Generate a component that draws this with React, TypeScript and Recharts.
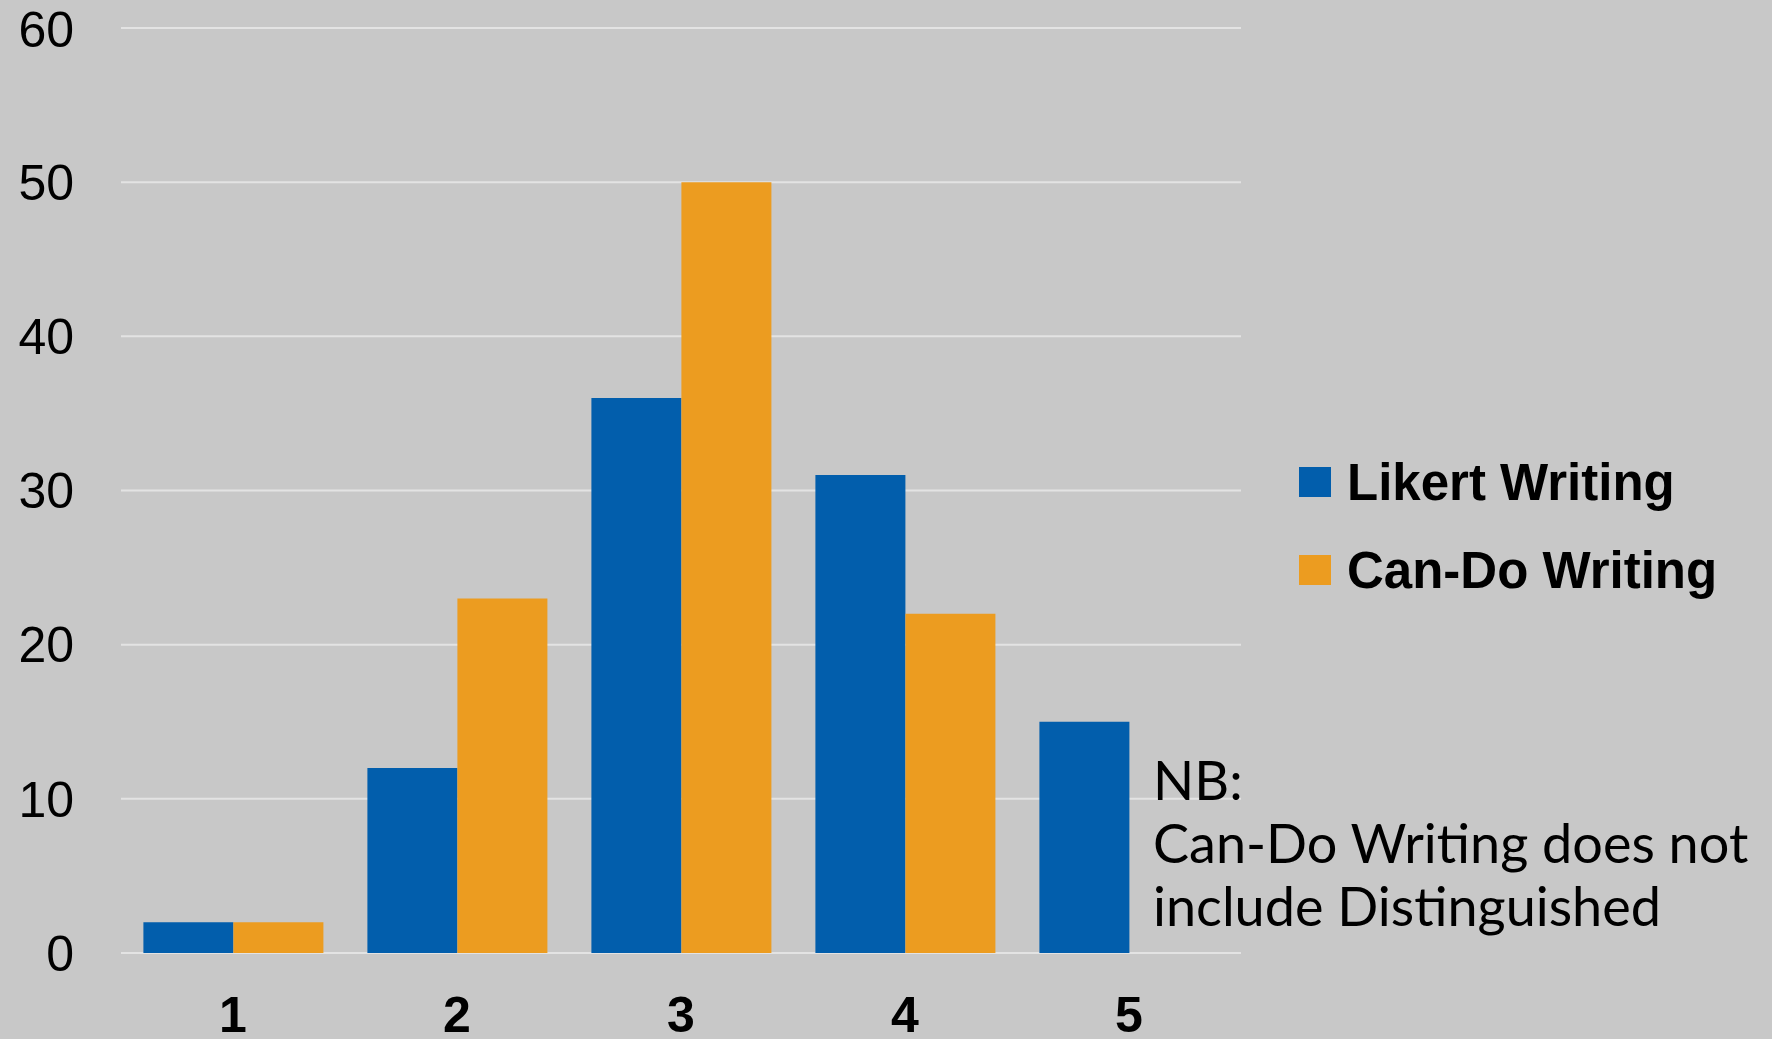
import React from 'react';
import { BarChart, Bar, XAxis, YAxis, CartesianGrid } from 'recharts';

const categories = ['1', '2', '3', '4', '5'];
const likertWriting = [2, 12, 36, 31, 15];
const canDoWriting: (number | null)[] = [2, 23, 50, 22, null];
const yTicks = [0, 10, 20, 30, 40, 50, 60];

const BLUE = '#025EAC';
const ORANGE = '#EC9C20';

const data = categories.map((c, i) => ({
  level: c,
  likert: likertWriting[i],
  canDo: canDoWriting[i],
}));

const legendItems = [
  { label: 'Likert Writing', color: BLUE },
  { label: 'Can-Do Writing', color: ORANGE },
];

const App: React.FC = () => {
  return (
    <div style={{ position: 'absolute', left: 0, top: 0, width: 1772, height: 1039, background: '#C8C8C8', overflow: 'hidden' }}>
      <BarChart
        width={1772}
        height={1039}
        data={data}
        margin={{ top: 28, right: 531, bottom: 0, left: 0 }}
        barCategoryGap="10%"
        barGap={0}
      >
        <CartesianGrid horizontal vertical={false} stroke="#E3E3E3" strokeWidth={2} />
        <YAxis
          width={121}
          domain={[0, 60]}
          ticks={yTicks}
          axisLine={false}
          tickLine={false}
          tickSize={0}
          tickMargin={47}
          tick={{ fontSize: 50, fill: '#000', fontFamily: '"Liberation Sans", Arial, sans-serif' }}
        />
        <XAxis
          dataKey="level"
          height={86}
          axisLine={false}
          tickLine={false}
          tickSize={0}
          tickMargin={43}
          tick={{ fontSize: 50, fill: '#000', fontWeight: 700, fontFamily: '"Liberation Sans", Arial, sans-serif' }}
        />
        <Bar dataKey="likert" name="Likert Writing" fill={BLUE} isAnimationActive={false} />
        <Bar dataKey="canDo" name="Can-Do Writing" fill={ORANGE} isAnimationActive={false} />
      </BarChart>

      {/* legend */}
      <div style={{ position: 'absolute', left: 1299, top: 438 }}>
        {legendItems.map((it) => (
          <div key={it.label} style={{ display: 'flex', alignItems: 'center', height: 88 }}>
            <span style={{ width: 32, height: 30, background: it.color, display: 'inline-block', marginRight: 16 }} />
            <span style={{ fontFamily: '"Liberation Sans", Arial, sans-serif', fontWeight: 700, fontSize: 51, color: '#000', whiteSpace: 'nowrap' }}>
              {it.label}
            </span>
          </div>
        ))}
      </div>

      {/* note */}
      <div
        style={{
          position: 'absolute',
          left: 1153,
          top: 748,
          fontFamily: 'Lato, "Noto Sans", sans-serif',
          fontSize: 54,
          lineHeight: '63px',
          color: '#000',
          whiteSpace: 'nowrap',
        }}
      >
        <div>NB:</div>
        <div>Can-Do Writing does not</div>
        <div>include Distinguished</div>
      </div>
    </div>
  );
};

export default App;
